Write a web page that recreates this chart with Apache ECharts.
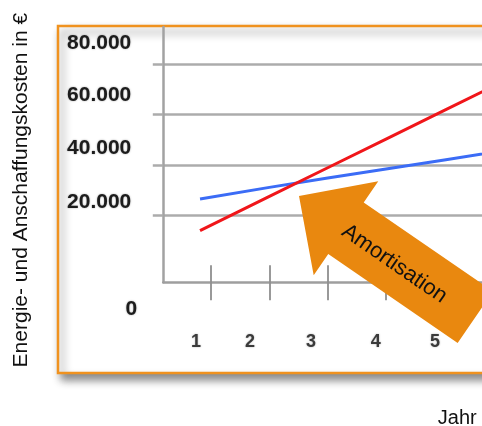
<!DOCTYPE html>
<html>
<head>
<meta charset="utf-8">
<script src="https://cdn.jsdelivr.net/npm/echarts@6/dist/echarts.min.js"></script>
<style>
html,body{margin:0;padding:0;background:#fff;}
#c{width:482px;height:426px;}
</style>
</head>
<body>
<div id="c"></div>
<script>
// ---- data ----
const years = [1, 2, 3, 4, 5, 6];
const xLabels = ['1', '2', '3', '4', '5', '6'];
const yGridValues = [20000, 40000, 60000, 80000];
const yLabelValues = [0, 20000, 40000, 60000, 80000];
const yLabels = ['0', '20.000', '40.000', '60.000', '80.000'];
const xData = [0.81, 2, 3, 4, 5, 6];
const blueCost = [26500, 31100, 34800, 38400, 42000, 45600];
const redCost = [13900, 27500, 38900, 50300, 61700, 73100];
const yTitle = 'Energie- und Anschaffungskosten in €';
const xTitle = 'Jahr';
const arrowText = 'Amortisation';

// ---- styles ----
const sans = '"Liberation Sans", Arial, Helvetica, sans-serif';
const yShift = [[88, 0, 0, 0], [0, 6, 27, 0], [0, 6, 34, 0], [0, 6, 39, 0], [0, 6, 42, 0]];
const xShift = [30, 38.6, 33.2, 20.4, 18.4, 20];

const yRich = {};
yShift.forEach((p, i) => {
  yRich['y' + i] = { padding: p, fontFamily: sans, fontWeight: 'bold', fontSize: 21, color: '#1c1c1c',
    textShadowColor: 'rgba(0,0,0,0.35)', textShadowBlur: 2 };
});
const xRich = {};
xShift.forEach((p, i) => {
  xRich['x' + i] = { padding: [0, p, 0, 0], fontFamily: sans, fontWeight: 'bold', fontSize: 18, color: '#3a3a3a',
    textShadowColor: 'rgba(0,0,0,0.3)', textShadowBlur: 2 };
});

const chart = echarts.init(document.getElementById('c'), null, { renderer: 'canvas' });

const option = {
  animation: false,
  backgroundColor: '#fff',
  grid: { left: 163.3, top: 27, right: -137.2, bottom: 143.7, containLabel: false, outerBoundsMode: 'none' },
  xAxis: [
    {
      type: 'value', min: 0.18, max: 8, position: 'bottom',
      axisLine: { show: true, onZero: false, lineStyle: { color: '#9e9e9e', width: 2.5 } },
      axisTick: { show: true, customValues: years, length: 18, lineStyle: { color: '#8e8e8e', width: 1.8 } },
      axisLabel: {
        show: true, customValues: years, margin: 60, verticalAlign: 'middle',
        formatter: function (v) { const i = years.indexOf(v); return i < 0 ? '' : '{x' + i + '|' + xLabels[i] + '}'; },
        rich: xRich
      },
      splitLine: { show: false },
      name: xTitle, nameLocation: 'middle', nameGap: 126,
      nameTextStyle: { fontFamily: sans, fontSize: 20, color: '#111', padding: [0, 0, 0, 132] }
    },
    {
      type: 'value', min: 0.18, max: 8, position: 'bottom',
      axisLine: { show: false, onZero: false },
      axisTick: { show: true, inside: true, customValues: years, length: 17, lineStyle: { color: '#8e8e8e', width: 1.8 } },
      axisLabel: { show: false },
      splitLine: { show: false }
    }
  ],
  yAxis: {
    type: 'value', min: -6624, max: 94822,
    axisLine: { show: true, onZero: false, lineStyle: { color: '#a2a2a2', width: 2.5 } },
    axisTick: { show: true, customValues: yGridValues, length: 10.5, lineStyle: { color: '#acacac', width: 2.5 } },
    splitLine: { show: true, lineStyle: { color: '#acacac', width: 2.5 } },
    axisLabel: {
      show: true, customValues: yLabelValues, margin: 26,
      formatter: function (v) { const i = yLabelValues.indexOf(v); return i < 0 ? '' : '{y' + i + '|' + yLabels[i] + '}'; },
      rich: yRich
    },
    name: yTitle, nameLocation: 'middle', nameRotate: 90, nameGap: 132,
    nameTextStyle: { fontFamily: sans, fontSize: 21, color: '#111', padding: [0, 71, 0, 0] }
  },
  series: [
    {
      name: 'Kosten A', type: 'line', showSymbol: false, smooth: false,
      data: xData.map((x, i) => [x, blueCost[i]]),
      lineStyle: { color: '#3B6CF6', width: 3 }, itemStyle: { color: '#3B6CF6' }, z: 3
    },
    {
      name: 'Kosten B', type: 'line', showSymbol: false, smooth: false,
      data: xData.map((x, i) => [x, redCost[i]]),
      lineStyle: { color: '#F0161A', width: 3 }, itemStyle: { color: '#F0161A' }, z: 4
    }
  ],
  graphic: [
    {
      type: 'rect', z: -10, silent: true,
      shape: { x: 58, y: 26, width: 600, height: 347 },
      style: { fill: '#fff', stroke: '#F0921F', lineWidth: 2.5,
        shadowColor: 'rgba(0,0,0,0.45)', shadowBlur: 8, shadowOffsetX: 4, shadowOffsetY: 6 }
    },
    {
      type: 'group', x: 299, y: 196, rotation: -0.602, z: 100,
      children: [
        {
          type: 'polygon', z: 100,
          shape: { points: [[0, 0], [57, -57], [57, -31.3], [214, -31.3], [214, 31.3], [57, 31.3], [57, 57]] },
          style: { fill: '#E9880F' }
        },
        {
          type: 'text', z: 101, x: 117, y: 2,
          style: { text: arrowText, font: '22px "Liberation Sans", Arial, sans-serif', fill: '#111', align: 'center', verticalAlign: 'middle' }
        }
      ]
    }
  ]
};
chart.setOption(option);
</script>
</body>
</html>
